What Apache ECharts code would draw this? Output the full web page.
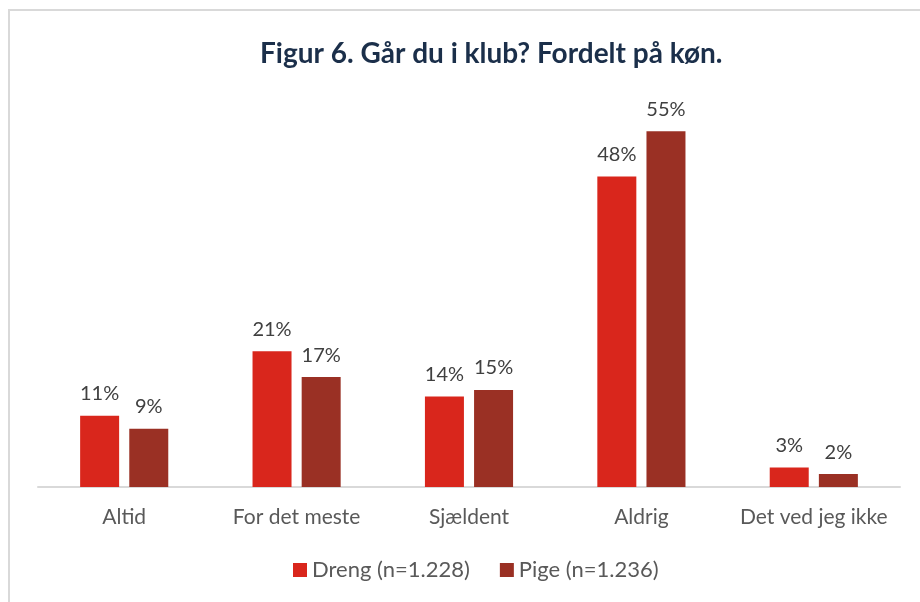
<!DOCTYPE html>
<html><head><meta charset="utf-8">
<script src="https://cdn.jsdelivr.net/npm/echarts@6/dist/echarts.min.js"></script>
<style>html,body{margin:0;padding:0;background:#fff}#c{width:920px;height:602px}</style>
</head><body><div id="c"></div>
<script>
const categories = ['Altid', 'For det meste', 'Sjældent', 'Aldrig', 'Det ved jeg ikke'];
const drengValues = [11, 21, 14, 48, 3];
const pigeValues = [9, 17, 15, 55, 2];
const seriesNames = ['Dreng (n=1.228)', 'Pige (n=1.236)'];
const titleText = 'Figur 6. Går du i klub? Fordelt på køn.';

const FONT = 'Lato, "Open Sans", sans-serif';
const chart = echarts.init(document.getElementById('c'), null, {renderer: 'canvas'});
const lbl = {show: true, position: 'top', distance: 12, color: '#404040', fontSize: 20, fontFamily: FONT, formatter: p => p.value + '%'};
chart.setOption({
  animation: false,
  backgroundColor: '#fff',
  graphic: [{type: 'rect', shape: {x: 9, y: 10, width: 930, height: 620}, style: {fill: 'none', stroke: '#d9d9d9', lineWidth: 2}, silent: true}],
  title: {text: titleText, left: 255, top: 35, textStyle: {fontFamily: FONT, fontWeight: 'bold', fontSize: 28, color: '#1b2f4a'}},
  legend: {bottom: 16, left: 288, itemWidth: 14, itemHeight: 14, itemGap: 30, icon: 'rect',
    textStyle: {fontFamily: FONT, fontSize: 22, color: '#595959'}, data: seriesNames},
  grid: {left: 38, right: 20, top: 99, bottom: 115, containLabel: false},
  xAxis: {type: 'category', data: categories, axisTick: {show: false},
    axisLine: {lineStyle: {color: '#d9d9d9', width: 2}},
    axisLabel: {interval: 0, hideOverlap: false, fontFamily: FONT, fontSize: 21, color: '#595959', margin: 20}},
  yAxis: {type: 'value', min: 0, max: 60, interval: 10, show: false, splitLine: {show: false}},
  series: [
    {name: seriesNames[0], type: 'bar', data: drengValues, barWidth: 39, barGap: '26%', itemStyle: {color: '#d9261c'}, label: lbl},
    {name: seriesNames[1], type: 'bar', data: pigeValues, barWidth: 39, itemStyle: {color: '#9a3024'}, label: lbl}
  ]
});
</script></body></html>
